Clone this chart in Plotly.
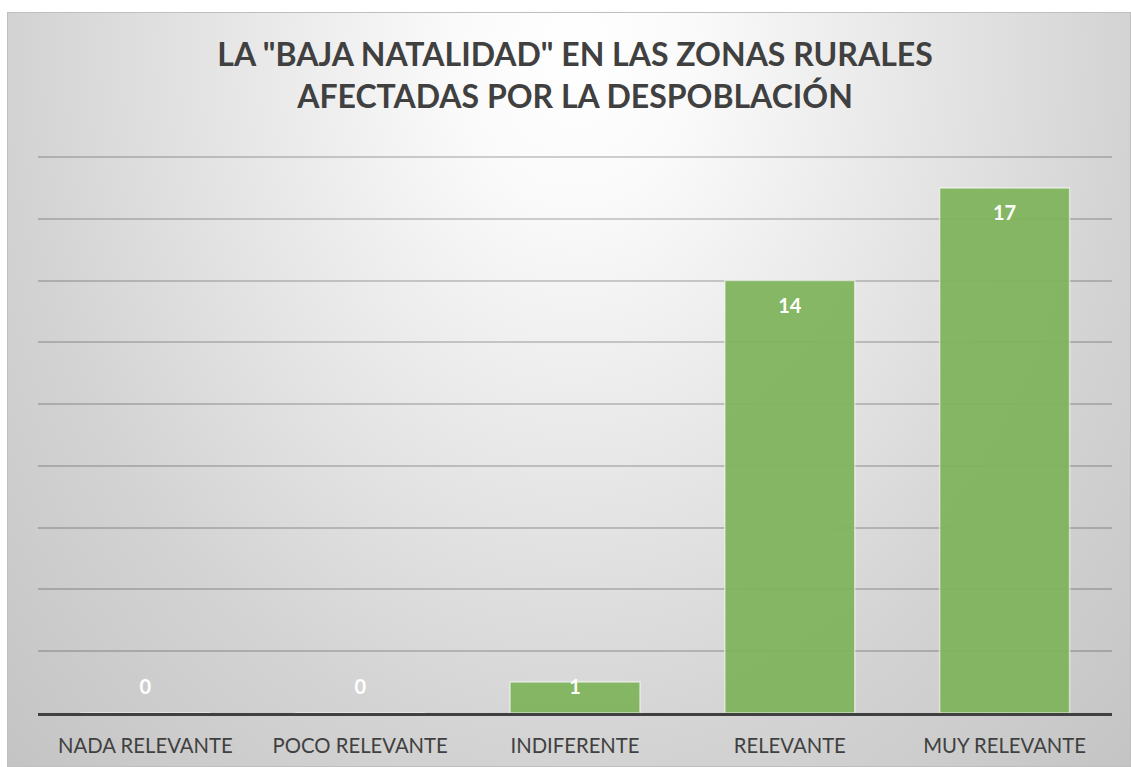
import base64
import plotly.graph_objects as go

categories = ["NADA RELEVANTE", "POCO RELEVANTE", "INDIFERENTE", "RELEVANTE", "MUY RELEVANTE"]
values = [0, 0, 1, 14, 17]
title_text = 'LA "BAJA NATALIDAD" EN LAS ZONAS RURALES<br>AFECTADAS POR LA DESPOBLACIÓN'

W, H = 1131, 767
ML, MR, MT, MB = 38, 19, 154, 54
BOX_L, BOX_T = 7, 12
Y_MAX = 18.1

# label positions inside the top of each bar (kept above baseline for short bars)
label_y = [max(v - 0.88, 0.78) for v in values]

BW, BH = W - BOX_L, H - BOX_T
svg = f'''<svg xmlns="http://www.w3.org/2000/svg" width="{BW}" height="{BH}" viewBox="0 0 {BW} {BH}" preserveAspectRatio="none">
<defs><radialGradient id="g" gradientUnits="userSpaceOnUse" cx="0" cy="0" r="800" gradientTransform="translate(568,40) scale(1,1.26)">
<stop offset="0" stop-color="#ffffff"/><stop offset="0.15" stop-color="#fafafa"/><stop offset="0.7" stop-color="#d3d3d3"/><stop offset="1" stop-color="#c4c4c4"/>
</radialGradient></defs>
<rect x="0.5" y="0.5" width="{BW-1}" height="{BH-1}" fill="url(#g)" stroke="#bfbfbf" stroke-width="1"/>
</svg>'''
src = "data:image/svg+xml;base64," + base64.b64encode(svg.encode()).decode()

pw = W - ML - MR
ph = H - MT - MB

fig = go.Figure()
fig.add_trace(go.Bar(
    x=categories, y=values,
    marker=dict(color="#7fb45c", line=dict(color="rgba(255,255,255,0.6)", width=1.5)),
    opacity=0.94,
    hoverinfo="skip",
))
fig.add_trace(go.Scatter(
    x=categories, y=label_y, mode="text",
    text=[str(v) for v in values],
    textposition="middle center",
    textfont=dict(family="Lato", size=20, color="white", weight="bold"),
    hoverinfo="skip",
))

fig.update_layout(
    width=W, height=H,
    margin=dict(l=ML, r=MR, t=MT, b=MB, pad=0, autoexpand=False),
    paper_bgcolor="white",
    plot_bgcolor="rgba(0,0,0,0)",
    showlegend=False,
    bargap=0.395,
    title=dict(
        text=title_text,
        x=(ML + pw / 2) / W, xanchor="center",
        y=1 - 66 / H, yanchor="top", yref="container",
        font=dict(family="Lato", size=32, color="#404040", weight="bold"),
    ),
    xaxis=dict(
        showline=True, linecolor="#404040", linewidth=3,
        showgrid=False, ticks="", ticklabelstandoff=13, automargin=False,
        tickfont=dict(family="Lato", size=20.3, color="#404040"),
        fixedrange=True,
    ),
    yaxis=dict(
        range=[0, Y_MAX], dtick=2, showticklabels=False, automargin=False,
        showgrid=True, gridcolor="rgba(0,0,0,0.18)", gridwidth=1.5,
        zeroline=False, showline=False, fixedrange=True,
    ),
    images=[dict(
        source=src, xref="paper", yref="paper",
        x=(BOX_L - ML) / pw, y=1 + (MT - BOX_T) / ph,
        sizex=BW / pw, sizey=BH / ph,
        xanchor="left", yanchor="top", sizing="stretch", layer="below",
    )],
)

fig.write_html(
    "out.html",
    config={"displayModeBar": False},
    post_script="document.body.style.margin='0';document.body.style.overflow='hidden';",
)
